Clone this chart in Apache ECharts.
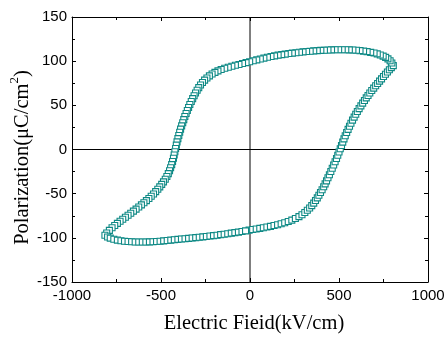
<!DOCTYPE html>
<html>
<head>
<meta charset="utf-8">
<script src="https://cdn.jsdelivr.net/npm/echarts@6/dist/echarts.min.js"></script>
<style>
  html, body { margin: 0; padding: 0; background: #fff; }
  #chart { width: 446px; height: 338px; }
</style>
</head>
<body>
<div id="chart"></div>
<script>
// P-E hysteresis loop: lower branch (field rising) and upper branch (field falling)
const lowerE = [-815,-800,-785,-765,-745,-725,-705,-685,-665,-645,-625,-605,-585,-565,-545,-525,-505,-485,-465,-445,-425,-405,-385,-365,-345,-325,-305,-285,-265,-245,-225,-205,-185,-165,-145,-125,-105,-85,-65,-45,-25,-5,15,35,55,75,95,115,135,155,175,195,215,235,255,275,292,308,322,335,347,358,368,378,387,396,405,414,422,430,438,446,454,462,470,478,486,493,500,507,514,521,528,535,543,551,559,567,576,585,594,603,613,623,633,643,653,663,673,684,695,706,717,728,739,750,761,772,783,794];
const lowerP = [-97,-99,-100.3,-101.6,-102.6,-103.3,-103.8,-104.2,-104.5,-104.7,-104.8,-104.8,-104.8,-104.6,-104.4,-104.1,-103.8,-103.4,-103,-102.6,-102.2,-101.8,-101.4,-101,-100.6,-100.2,-99.8,-99.3,-98.9,-98.5,-98,-97.5,-97,-96.4,-95.9,-95.3,-94.7,-94.1,-93.5,-92.8,-92.1,-91.3,-90.6,-90,-89.3,-88.5,-87.8,-87,-86.1,-85.2,-84.1,-82.9,-81.5,-80,-78.1,-76,-73.8,-71.3,-68.8,-66.2,-63.5,-60.7,-57.8,-54.8,-51.8,-48.7,-45.5,-42.2,-38.9,-35.5,-32,-28.5,-24.9,-21.3,-17.6,-13.9,-10.2,-6.5,-2.8,0.9,4.6,8.3,12,15.6,19.2,22.8,26.3,29.8,33.2,36.6,39.9,43.1,46.3,49.4,52.5,55.5,58.4,61.2,64,66.8,69.5,72.2,74.8,77.4,80,82.6,85.2,87.8,90.3,92.7];
const upperE = [805,797,787,775,762,748,732,715,697,678,658,638,618,598,578,558,538,518,498,478,458,438,418,398,378,358,338,318,298,278,258,238,218,198,178,158,138,118,98,78,58,38,18,-2,-22,-42,-62,-82,-102,-122,-142,-162,-180,-197,-213,-228,-242,-255,-267,-278,-288,-297,-306,-314,-322,-330,-338,-345,-352,-359,-366,-372,-378,-384,-390,-395,-400,-405,-410,-414,-418,-422,-426,-430,-435,-440,-446,-452,-459,-467,-476,-486,-496,-507,-518,-530,-542,-555,-568,-582,-596,-610,-625,-640,-655,-670,-685,-700,-715,-730,-745,-760,-775,-790,-805];
const upperP = [95,98,100.5,102.6,104.3,105.7,107,108.2,109.2,110,110.8,111.4,111.9,112.3,112.6,112.8,113,113,113,112.9,112.8,112.6,112.4,112.2,111.9,111.6,111.3,110.9,110.5,110.1,109.6,109.1,108.6,108,107.4,106.8,106,105.2,104.4,103.5,102.5,101.5,100.4,99.3,98.3,97.3,96.3,95.3,94.2,93.1,91.9,90.5,89,87.3,85.4,83.3,81,78.5,75.8,73,70.1,67.1,64,60.8,57.6,54.3,51,47.6,44.2,40.8,37.3,33.8,30.3,26.7,23.1,19.5,15.9,12.3,8.6,4.9,1.2,-2.5,-6.2,-9.9,-13.5,-17.1,-20.6,-24,-27.3,-30.5,-33.6,-36.6,-39.5,-42.3,-45,-47.7,-50.3,-52.9,-55.4,-57.9,-60.3,-62.7,-65.1,-67.5,-69.8,-72.1,-74.4,-76.7,-79,-81.3,-83.6,-86,-88.5,-91.5,-94.5];

const xTicks = { min: -1000, max: 1000, step: 500 };
const yTicks = { min: -150, max: 150, step: 50 };

const xTitle = 'Electric Fieid(kV/cm)';
const yTitle = '{t|Polarization(μC/cm}{s|2}{t|)}';

// The sweep starts on the lower branch at zero field, goes round the loop and closes there
const startIdx = lowerE.indexOf(-5);
const pts = [];
for (let i = startIdx; i < lowerE.length; i++) pts.push([lowerE[i], lowerP[i]]);
for (let i = 0; i < upperE.length; i++) pts.push([upperE[i], upperP[i]]);
for (let i = 0; i < startIdx; i++) pts.push([lowerE[i], lowerP[i]]);

const labelFont = { fontFamily: 'Liberation Sans', fontSize: 15, color: '#000' };
const titleFont = 'Liberation Serif';

function valueAxis(cfg, extra) {
  return Object.assign({
    type: 'value',
    min: cfg.min, max: cfg.max, interval: cfg.step,
    axisLine: { show: true, onZero: false, lineStyle: { color: '#000', width: 1 } },
    axisTick: { show: true, inside: true, length: 4, lineStyle: { color: '#000' } },
    minorTick: { show: true, splitNumber: 2, length: 3, lineStyle: { color: '#000' } },
    splitLine: { show: false },
    minorSplitLine: { show: false }
  }, extra);
}

const chart = echarts.init(document.getElementById('chart'), null, { renderer: 'canvas' });
chart.setOption({
  animation: false,
  backgroundColor: '#fff',
  grid: { left: 72, right: 18, top: 17, bottom: 56, containLabel: false, outerBoundsMode: 'none' },
  xAxis: [
    valueAxis(xTicks, {
      position: 'bottom',
      name: xTitle, nameLocation: 'middle', nameGap: 31, nameMoveOverlap: false,
      nameTextStyle: { fontFamily: titleFont, fontSize: 20.5, color: '#000', padding: [0, 0, 0, 8] },
      axisLabel: Object.assign({ margin: 6, formatter: v => String(v) }, labelFont)
    }),
    valueAxis(xTicks, { position: 'top', axisLabel: { show: false } })
  ],
  yAxis: [
    valueAxis(yTicks, {
      position: 'left',
      name: yTitle, nameLocation: 'middle', nameGap: 34, nameMoveOverlap: false,
      nameTextStyle: {
        padding: [0, 16, 0, 0],
        rich: {
          t: { fontFamily: titleFont, fontSize: 20.5, color: '#000', lineHeight: 30 },
          s: { fontFamily: titleFont, fontSize: 13, color: '#000', verticalAlign: 'top', lineHeight: 12 }
        }
      },
      axisLabel: Object.assign({ margin: 5, formatter: v => String(v) }, labelFont)
    }),
    valueAxis(yTicks, { position: 'right', axisLabel: { show: false } })
  ],
  series: [
    {
      type: 'line', silent: true, showSymbol: false, z: 1,
      data: [[0, yTicks.min], [0, yTicks.max]],
      lineStyle: { color: '#000', width: 1 }
    },
    {
      type: 'line', silent: true, showSymbol: false, z: 1,
      data: [[xTicks.min, 0], [xTicks.max, 0]],
      lineStyle: { color: '#000', width: 1 }
    },
    {
      type: 'scatter', z: 3,
      symbol: 'rect', symbolSize: 6,
      itemStyle: { color: '#fff', borderColor: '#0e8985', borderWidth: 1.1, opacity: 1 },
      data: pts
    }
  ]
});
</script>
</body>
</html>
